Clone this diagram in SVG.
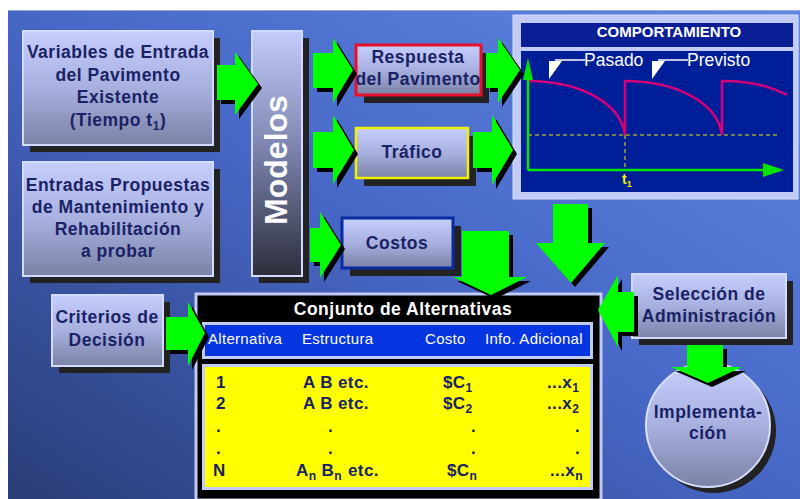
<svg xmlns="http://www.w3.org/2000/svg" width="800" height="499" viewBox="0 0 800 499">
<defs>
<linearGradient id="bg" x1="1" y1="0" x2="0" y2="1">
<stop offset="0" stop-color="#5f87e4"/>
<stop offset="0.5" stop-color="#4767c6"/>
<stop offset="1" stop-color="#2a3d78"/>
</linearGradient>
<linearGradient id="boxg" x1="0" y1="0" x2="0" y2="1">
<stop offset="0" stop-color="#c6cefc"/>
<stop offset="0.5" stop-color="#a8b0e0"/>
<stop offset="1" stop-color="#7a82a6"/>
</linearGradient>
<linearGradient id="modg" x1="0" y1="0" x2="0" y2="1">
<stop offset="0" stop-color="#c4ccfa"/>
<stop offset="0.45" stop-color="#8088b4"/>
<stop offset="1" stop-color="#2c2e3c"/>
</linearGradient>
<style>
.sh{fill:#222}
.box{fill:url(#boxg);stroke:#d2daff;stroke-width:2}
.t{font-family:"Liberation Sans",Arial,sans-serif;font-weight:bold;font-size:17.5px;fill:#1a2266;text-anchor:middle;letter-spacing:0.5px}
.ar{fill:#00ff00}
.as{fill:#000}
.hd{font-family:"Liberation Sans",Arial,sans-serif;font-size:15px;fill:#fff;letter-spacing:0.3px}
.rw{font-family:"Liberation Sans",Arial,sans-serif;font-weight:bold;font-size:17px;fill:#1a2266;letter-spacing:0.4px}
.mg{fill:none;stroke:#d4007a;stroke-width:2.5}
.dash{stroke:#e8e800;stroke-width:1;stroke-dasharray:4,3;fill:none}
</style>
</defs>
<rect x="0" y="0" width="800" height="499" fill="#fff"/>
<rect x="8" y="10" width="792" height="489" fill="url(#bg)"/>
<line x1="8" y1="10.5" x2="800" y2="10.5" stroke="#9aa6cc" stroke-width="1"/>

<g id="var-entrada">
<rect class="sh" x="30" y="38" width="190" height="114"/>
<rect class="box" x="23" y="31" width="190" height="114"/>
<text class="t" x="118" y="58">Variables de Entrada</text>
<text class="t" x="118" y="81">del Pavimento</text>
<text class="t" x="118" y="103">Existente</text>
<text class="t" x="118" y="126">(Tiempo t<tspan font-size="12" dy="4">1</tspan><tspan dy="-4">)</tspan></text>
</g>

<g id="entradas-propuestas">
<rect class="sh" x="30" y="169" width="190" height="114"/>
<rect class="box" x="23" y="162" width="190" height="114"/>
<text class="t" x="118" y="191">Entradas Propuestas</text>
<text class="t" x="118" y="213">de Mantenimiento y</text>
<text class="t" x="118" y="235">Rehabilitación</text>
<text class="t" x="118" y="257">a probar</text>
</g>

<g id="modelos">
<rect class="sh" x="259" y="38" width="50" height="245"/>
<rect x="252" y="31" width="50" height="245" fill="url(#modg)" stroke="#d2daff" stroke-width="2"/>
<text transform="translate(287,160) rotate(-90)" font-family="Liberation Sans,Arial,sans-serif" font-weight="bold" font-size="32" fill="#fff" text-anchor="middle">Modelos</text>
</g>

<g id="respuesta">
<rect class="sh" x="364" y="53" width="125" height="50"/>
<rect x="356" y="45" width="125" height="50" fill="url(#boxg)" stroke="#e8102a" stroke-width="3"/>
<text class="t" x="418" y="63">Respuesta</text>
<text class="t" x="418" y="85">del Pavimento</text>
</g>

<g id="trafico">
<rect class="sh" x="364" y="136" width="112" height="50"/>
<rect x="356" y="128" width="112" height="50" fill="url(#boxg)" stroke="#f0f000" stroke-width="2.5"/>
<text class="t" x="412" y="158">Tráfico</text>
</g>

<g id="costos">
<rect class="sh" x="350" y="226" width="111" height="50"/>
<rect x="342" y="218" width="111" height="50" fill="url(#boxg)" stroke="#0a2aa0" stroke-width="3"/>
<text class="t" x="397" y="249">Costos</text>
</g>

<g id="comportamiento">
<rect x="513" y="15" width="285" height="184" fill="#c2caf6" stroke="#d8e0ff" stroke-width="1"/>
<rect x="521" y="23" width="272" height="24" fill="#0a1f96"/>
<text x="669" y="37" font-family="Liberation Sans,Arial,sans-serif" font-weight="bold" font-size="15" fill="#fff" text-anchor="middle">COMPORTAMIENTO</text>
<rect x="521" y="51" width="272" height="141" fill="#001e98"/>
<path class="dash" d="M528,135 H778 M625,135 V170"/>
<path class="mg" d="M528,81 C575,81 620,100 625,135 L625,81 C672,81 717,100 722,135 L722,81 C752,81 772,87 787,95"/>
<line x1="528" y1="170" x2="528" y2="78" stroke="#00e600" stroke-width="2.5"/>
<polygon points="523,80 528,58 533,80" fill="#00e600"/>
<line x1="528" y1="170" x2="765" y2="170" stroke="#00e600" stroke-width="2.5"/>
<polygon points="763,163 784,170 763,177" fill="#00e600"/>
<text x="622" y="184" font-family="Liberation Sans,Arial,sans-serif" font-weight="bold" font-size="14" fill="#f0f000">t<tspan font-size="9" dy="3">1</tspan></text>
<line x1="555" y1="60" x2="585" y2="60" stroke="#fff" stroke-width="1.5"/>
<polygon points="549,61 562,61 549,79" fill="#fff"/>
<line x1="658" y1="60" x2="688" y2="60" stroke="#fff" stroke-width="1.5"/>
<polygon points="652,61 665,61 652,79" fill="#fff"/>
<text x="584" y="66" font-family="Liberation Sans,Arial,sans-serif" font-size="17.5" fill="#fff">Pasado</text>
<text x="687" y="66" font-family="Liberation Sans,Arial,sans-serif" font-size="17.5" fill="#fff">Previsto</text>
</g>

<g id="criterios">
<rect class="sh" x="59" y="302" width="111" height="71"/>
<rect class="box" x="52" y="295" width="111" height="71"/>
<text class="t" x="107" y="323">Criterios de</text>
<text class="t" x="107" y="346">Decisión</text>
</g>

<g id="conjunto">
<rect x="196" y="294" width="405" height="206" fill="#000" stroke="#c2caf6" stroke-width="3"/>
<text x="403" y="315" font-family="Liberation Sans,Arial,sans-serif" font-weight="bold" font-size="17.5" fill="#fff" text-anchor="middle" letter-spacing="0.5">Conjunto de Alternativas</text>
<rect x="203.5" y="323.5" width="388" height="34" fill="#0535e0" stroke="#c2caf6" stroke-width="3"/>
<text class="hd" x="208" y="344">Alternativa</text>
<text class="hd" x="302" y="344">Estructura</text>
<text class="hd" x="425" y="344">Costo</text>
<text class="hd" x="485" y="344">Info. Adicional</text>
<rect x="203.5" y="365.5" width="388" height="123" fill="#ffff00" stroke="#c2caf6" stroke-width="3"/>
<text class="rw" x="216" y="388">1</text>
<text class="rw" x="303" y="388">A B etc.</text>
<text class="rw" x="443" y="388">$C<tspan font-size="12" dy="4">1</tspan></text>
<text class="rw" x="547" y="388">...x<tspan font-size="12" dy="4">1</tspan></text>
<text class="rw" x="216" y="409">2</text>
<text class="rw" x="303" y="409">A B etc.</text>
<text class="rw" x="443" y="409">$C<tspan font-size="12" dy="4">2</tspan></text>
<text class="rw" x="547" y="409">...x<tspan font-size="12" dy="4">2</tspan></text>
<text class="rw" x="216" y="432">.</text>
<text class="rw" x="328" y="432">.</text>
<text class="rw" x="471" y="432">.</text>
<text class="rw" x="575" y="432">.</text>
<text class="rw" x="216" y="454">.</text>
<text class="rw" x="328" y="454">.</text>
<text class="rw" x="471" y="454">.</text>
<text class="rw" x="575" y="454">.</text>
<text class="rw" x="213" y="476">N</text>
<text class="rw" x="296" y="476">A<tspan font-size="12" dy="4">n</tspan><tspan dy="-4"> B</tspan><tspan font-size="12" dy="4">n</tspan><tspan dy="-4" dx="6">etc.</tspan></text>
<text class="rw" x="447" y="476">$C<tspan font-size="12" dy="4">n</tspan></text>
<text class="rw" x="550" y="476">...x<tspan font-size="12" dy="4">n</tspan></text>
</g>

<g id="seleccion">
<rect class="sh" x="639" y="281" width="154" height="64"/>
<rect class="box" x="632" y="274" width="154" height="64"/>
<text class="t" x="709" y="300">Selección de</text>
<text class="t" x="709" y="322">Administración</text>
</g>

<g id="implementacion">
<circle cx="714" cy="431" r="62" fill="#222"/>
<circle cx="708" cy="425" r="62" fill="url(#boxg)" stroke="#d8e0ff" stroke-width="2"/>
<text class="t" x="708" y="418">Implementa-</text>
<text class="t" x="708" y="439">ción</text>
</g>

<g id="connectors">
<g transform="translate(4,4)" class="as">
<polygon points="217,65 235,65 235,52 258,84 235,115 235,100 217,100"/>
<polygon points="313,53 333,53 333,38 353,70 333,103 333,88 313,88"/>
<polygon points="486,53 498,53 498,38 520,70 498,103 498,88 486,88"/>
<polygon points="313,132 333,132 333,115 354,150 333,184 333,168 313,168"/>
<polygon points="473,132 492,132 492,115 513,150 492,185 492,168 473,168"/>
<polygon points="310,228 320,228 320,212 341,245 320,278 320,262 310,262"/>
<polygon points="462,231 509,231 509,277 527,277 491,295 453,277 462,277"/>
<polygon points="553,204 588,204 588,243 605,243 571,283 536,243 553,243"/>
<polygon points="634,292 618,292 618,275 598,310 618,347 618,332 634,332"/>
<polygon points="687,345 723,345 723,367 742,367 708,383 671,367 687,367"/>
<polygon points="166,317 188,317 188,302 205,333 188,366 188,350 166,350"/>
</g>
<g class="ar">
<polygon points="217,65 235,65 235,52 258,84 235,115 235,100 217,100"/>
<polygon points="313,53 333,53 333,38 353,70 333,103 333,88 313,88"/>
<polygon points="486,53 498,53 498,38 520,70 498,103 498,88 486,88"/>
<polygon points="313,132 333,132 333,115 354,150 333,184 333,168 313,168"/>
<polygon points="473,132 492,132 492,115 513,150 492,185 492,168 473,168"/>
<polygon points="310,228 320,228 320,212 341,245 320,278 320,262 310,262"/>
<polygon points="462,231 509,231 509,277 527,277 491,295 453,277 462,277"/>
<polygon points="553,204 588,204 588,243 605,243 571,283 536,243 553,243"/>
<polygon points="634,292 618,292 618,275 598,310 618,347 618,332 634,332"/>
<polygon points="687,345 723,345 723,367 742,367 708,383 671,367 687,367"/>
<polygon points="166,317 188,317 188,302 205,333 188,366 188,350 166,350"/>
</g>
</g>
</svg>
